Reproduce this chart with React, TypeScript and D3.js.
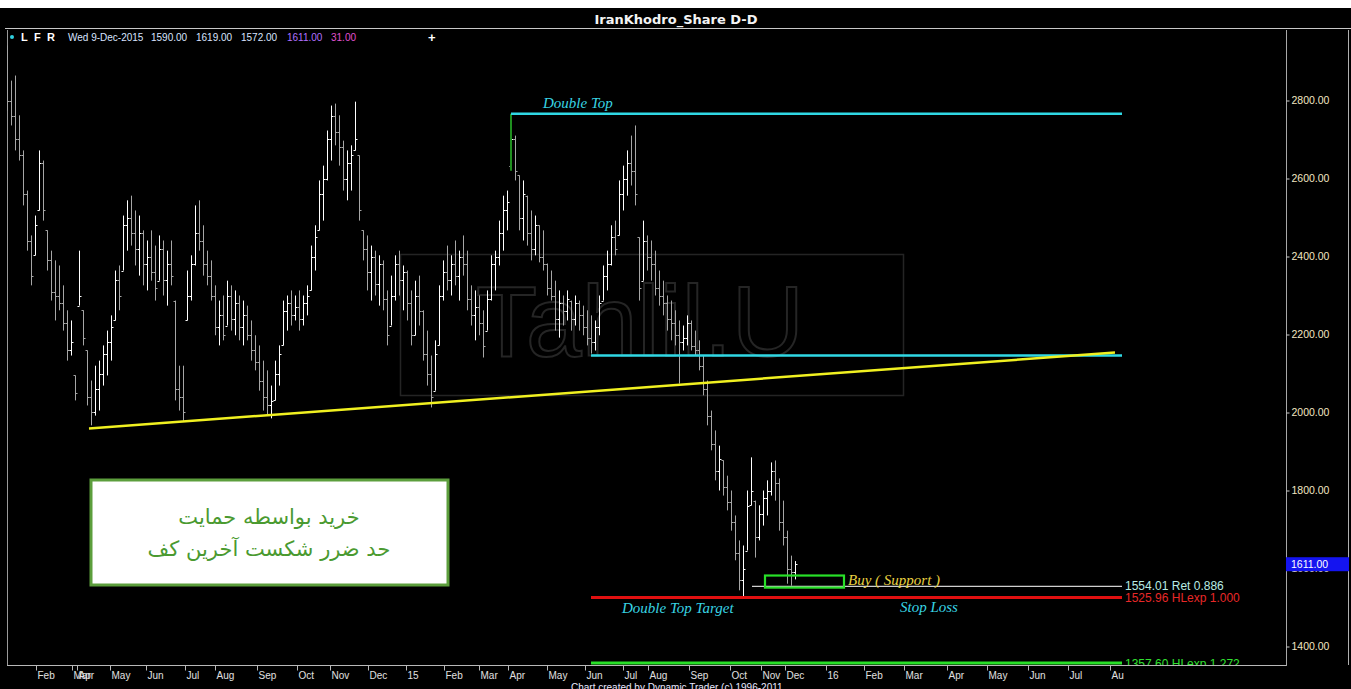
import { useRef, useEffect } from "react";
import * as d3 from "d3";

// bars (about one every second session), Jan 2014 .. 9 Dec 2015
const barHigh = [
  2941, 2851, 2864, 2762, 2672, 2569, 2454, 2505, 2672, 2646,
  2467, 2415, 2390, 2377, 2326, 2262, 2236, 2095, 2415, 2262,
  2159, 2082, 2120, 2133, 2172, 2210, 2249, 2364, 2377, 2505,
  2544, 2556, 2518, 2505, 2467, 2441, 2467, 2428, 2454, 2441,
  2415, 2441, 2287, 2120, 2120, 2364, 2403, 2531, 2544, 2480,
  2415, 2390, 2326, 2287, 2300, 2338, 2326, 2313, 2300, 2287,
  2274, 2236, 2198, 2172, 2133, 2108, 2069, 2133, 2172, 2287,
  2300, 2313, 2300, 2313, 2300, 2326, 2428, 2480, 2595, 2633,
  2723, 2787, 2792, 2762, 2697, 2672, 2685, 2797, 2659, 2467,
  2454, 2428, 2415, 2403, 2390, 2313, 2351, 2403, 2415, 2377,
  2364, 2313, 2338, 2351, 2262, 2210, 2146, 2185, 2326, 2390,
  2428, 2403, 2441, 2415, 2454, 2415, 2326, 2313, 2300, 2262,
  2313, 2403, 2415, 2492, 2556, 2569, 2766, 2710, 2608, 2595,
  2556, 2518, 2505, 2480, 2467, 2382, 2364, 2338, 2313, 2300,
  2313, 2287, 2300, 2287, 2274, 2262, 2249, 2236, 2300, 2377,
  2415, 2480, 2492, 2595, 2633, 2672, 2710, 2736, 2449, 2492,
  2454, 2441, 2415, 2364, 2338, 2300, 2287, 2262, 2236, 2223,
  2249, 2236, 2210, 2185, 2146, 2082, 2005, 1954, 1915, 1877,
  1838, 1800, 1736, 1672, 1659, 1800, 1885, 1774, 1762, 1800,
  1826, 1872, 1877, 1831, 1774, 1697, 1633, 1619,
];
const barLow = [
  2774, 2736, 2672, 2646, 2531, 2415, 2326, 2403, 2518, 2492,
  2364, 2287, 2236, 2262, 2210, 2133, 2146, 2031, 2274, 2172,
  2018, 1967, 1992, 2005, 2069, 2095, 2133, 2236, 2262, 2364,
  2415, 2428, 2377, 2351, 2326, 2313, 2338, 2287, 2338, 2300,
  2274, 2326, 2031, 2005, 1979, 2236, 2287, 2377, 2415, 2351,
  2326, 2287, 2198, 2172, 2185, 2223, 2210, 2198, 2185, 2172,
  2185, 2133, 2108, 2056, 2005, 1992, 1985, 2031, 2069, 2172,
  2210, 2223, 2236, 2210, 2223, 2249, 2313, 2364, 2467, 2492,
  2595, 2646, 2685, 2633, 2569, 2544, 2569, 2672, 2492, 2390,
  2313, 2287, 2300, 2274, 2262, 2172, 2223, 2287, 2300, 2262,
  2236, 2172, 2198, 2223, 2133, 2069, 2013, 2056, 2172, 2287,
  2313, 2300, 2326, 2287, 2351, 2262, 2223, 2185, 2198, 2141,
  2210, 2287, 2313, 2377, 2415, 2467, 2633, 2595, 2467, 2441,
  2428, 2390, 2403, 2385, 2364, 2300, 2287, 2210, 2192, 2223,
  2236, 2210, 2223, 2210, 2198, 2172, 2151, 2159, 2198, 2287,
  2313, 2377, 2403, 2454, 2518, 2556, 2582, 2531, 2287, 2338,
  2364, 2338, 2300, 2274, 2249, 2210, 2185, 2172, 2074, 2159,
  2172, 2159, 2146, 2108, 2044, 1967, 1903, 1826, 1800, 1787,
  1749, 1697, 1621, 1544, 1526, 1646, 1762, 1628, 1672, 1710,
  1736, 1787, 1774, 1697, 1659, 1561, 1556, 1572,
];
const barClose = [
  2800, 2760, 2700, 2660, 2560, 2440, 2350, 2480, 2640, 2520,
  2390, 2310, 2300, 2280, 2230, 2160, 2180, 2050, 2300, 2190,
  2040, 2000, 2060, 2100, 2150, 2180, 2220, 2340, 2300, 2480,
  2500, 2460, 2420, 2460, 2380, 2400, 2360, 2320, 2420, 2340,
  2380, 2350, 2060, 2040, 2000, 2300, 2380, 2460, 2440, 2380,
  2350, 2300, 2220, 2250, 2200, 2300, 2240, 2280, 2220, 2250,
  2200, 2160, 2130, 2080, 2040, 2020, 2030, 2100, 2150, 2260,
  2280, 2250, 2270, 2240, 2280, 2300, 2400, 2450, 2560, 2600,
  2700, 2760, 2720, 2680, 2600, 2640, 2660, 2700, 2520, 2420,
  2360, 2400, 2330, 2380, 2290, 2200, 2300, 2380, 2340, 2360,
  2280, 2200, 2300, 2260, 2150, 2100, 2040, 2150, 2300, 2360,
  2340, 2380, 2350, 2400, 2380, 2290, 2250, 2270, 2230, 2170,
  2290, 2380, 2400, 2460, 2520, 2540, 2700, 2620, 2500, 2560,
  2460, 2420, 2480, 2400, 2380, 2320, 2300, 2240, 2280, 2260,
  2290, 2240, 2280, 2250, 2220, 2190, 2180, 2220, 2280, 2350,
  2380, 2450, 2420, 2560, 2600, 2640, 2620, 2560, 2320, 2440,
  2400, 2380, 2320, 2300, 2280, 2240, 2230, 2200, 2180, 2190,
  2230, 2170, 2160, 2120, 2060, 1990, 1920, 1850, 1880, 1810,
  1770, 1720, 1640, 1570, 1600, 1760, 1800, 1680, 1740, 1780,
  1800, 1850, 1820, 1720, 1680, 1600, 1590, 1611,
];

const monthLabels = [
  "Feb", "Mar", "Apr", "May", "Jun", "Jul", "Aug", "Sep", "Oct", "Nov", "Dec", "15",
  "Feb", "Mar", "Apr", "May", "Jun", "Jul", "Aug", "Sep", "Oct", "Nov", "Dec", "16",
  "Feb", "Mar", "Apr", "May", "Jun", "Jul", "Au",
];
// month starts on the bar-index axis
const monthTicks = [
  7.25, 16.25, 17.5, 25.75, 34.75, 44.5, 52, 62.5, 72.5, 80.75, 90.25, 99.75,
  109.25, 118, 125.25, 135, 144.5, 154, 160.25, 170.5, 180.75, 188.5, 194.5, 204.75,
  214.25, 224.25, 235, 245, 255.25, 265.25, 275.75,
];
const priceTicks = [1400, 1600, 1800, 2000, 2200, 2400, 2600, 2800];

const legendValues = ["1590.00", "1619.00", "1572.00", "1611.00", "31.00"];
const doubleTopLevel = 2766;
const necklineLevel = 2146;
const retLevel = 1554.01;
const targetLevel = 1525.96;
const extLevel = 1357.6;
const lastClose = 1611;
const trendFrom = [20.5, 1959];
const trendTo = [277, 2154];
const buyZone = [189.5, 209.25, 1551, 1582];

const W = 1351;
const H = 689;

const App = () => {
  const svgRef = useRef(null);

  useEffect(() => {
    const svg = d3.select(svgRef.current);
    svg.selectAll("*").remove();

    const plot = { left: 7, right: 1286, top: 30, bottom: 665 };
    const x = d3.scaleLinear().domain([0, 320]).range([7, 1287]);
    const y = d3.scaleLinear().domain([1400, 2800]).range([646.5, 100.5]);
    const endIdx = 278.75;

    // background
    svg.append("rect").attr("width", W).attr("height", H).attr("fill", "#fff");
    svg.append("rect").attr("y", 8).attr("width", W).attr("height", H - 8).attr("fill", "#000");

    const defs = svg.append("defs");
    defs.append("clipPath").attr("id", "plotClip")
      .append("rect")
      .attr("x", plot.left).attr("y", plot.top)
      .attr("width", plot.right - plot.left).attr("height", plot.bottom - plot.top);

    // title + header
    svg.append("text")
      .attr("x", 676).attr("y", 24)
      .attr("text-anchor", "middle")
      .attr("font-family", "DejaVu Sans").attr("font-weight", "bold").attr("font-size", 13)
      .attr("fill", "#f4f4f4")
      .text("IranKhodro_Share D-D");
    svg.append("line").attr("x1", 5).attr("x2", W).attr("y1", 28.5).attr("y2", 28.5)
      .attr("stroke", "#c8c8c8");

    const legend = svg.append("g").attr("font-family", "Liberation Sans").attr("font-size", 10);
    legend.append("circle").attr("cx", 12).attr("cy", 37).attr("r", 2).attr("fill", "#30d0e0");
    ["L", "F", "R"].forEach((t, i) => {
      legend.append("text").attr("x", 21 + i * 13).attr("y", 41).attr("font-weight", "bold")
        .attr("font-size", 11).attr("fill", "#fff").text(t);
    });
    legend.append("text").attr("x", 68).attr("y", 41).attr("fill", "#d8e4ff").text("Wed 9-Dec-2015");
    const legendX = [151, 196, 241, 287, 331];
    const legendColors = ["#d8e4ff", "#d8e4ff", "#d8e4ff", "#b070ff", "#e050d0"];
    legendValues.forEach((v, i) => {
      legend.append("text").attr("x", legendX[i]).attr("y", 41).attr("fill", legendColors[i]).text(v);
    });
    legend.append("text").attr("x", 428).attr("y", 42).attr("font-weight", "bold")
      .attr("font-size", 13).attr("fill", "#fff").text("+");

    // frame
    svg.append("line").attr("x1", plot.left + 0.5).attr("x2", plot.left + 0.5)
      .attr("y1", plot.top).attr("y2", plot.bottom).attr("stroke", "#9a9a9a");
    svg.append("line").attr("x1", plot.right + 0.5).attr("x2", plot.right + 0.5)
      .attr("y1", plot.top).attr("y2", plot.bottom + 1).attr("stroke", "#a8a8a8");
    svg.append("line").attr("x1", 1348.5).attr("x2", 1348.5)
      .attr("y1", plot.top).attr("y2", plot.bottom).attr("stroke", "#b0b0b0");
    svg.append("line").attr("x1", plot.left).attr("x2", plot.right)
      .attr("y1", plot.bottom + 0.5).attr("y2", plot.bottom + 0.5).attr("stroke", "#b8b8b8");

    const g = svg.append("g").attr("clip-path", "url(#plotClip)");

    // watermark
    g.append("rect").attr("x", 400.5).attr("y", 254.5).attr("width", 503).attr("height", 141)
      .attr("fill", "none").attr("stroke", "#242424").attr("stroke-width", 1.5);
    g.append("text").attr("x", 640).attr("y", 356).attr("text-anchor", "middle")
      .attr("font-family", "Liberation Sans").attr("font-size", 100)
      .attr("fill", "none").attr("stroke", "#252525").attr("stroke-width", 2)
      .text("Tahlil.U");

    // bars
    const bars = barHigh.map((h, i) => {
      const prev = i > 0 ? barClose[i - 1] : h;
      const open = Math.max(barLow[i], Math.min(h, prev));
      return { i, high: h, low: barLow[i], open, close: barClose[i] };
    });
    const barG = g.append("g");
    bars.forEach((d) => {
      const cx = Math.round(x(d.i)) + 0.5;
      const col = d.close >= d.open ? "#ffffff" : "#a6a6a6";
      barG.append("line").attr("x1", cx).attr("x2", cx)
        .attr("y1", y(d.high)).attr("y2", y(d.low)).attr("stroke", col);
      barG.append("line").attr("x1", cx - 2).attr("x2", cx)
        .attr("y1", Math.round(y(d.open)) + 0.5).attr("y2", Math.round(y(d.open)) + 0.5).attr("stroke", col);
      barG.append("line").attr("x1", cx).attr("x2", cx + 2)
        .attr("y1", Math.round(y(d.close)) + 0.5).attr("y2", Math.round(y(d.close)) + 0.5).attr("stroke", col);
    });

    // double top
    g.append("line").attr("x1", x(126)).attr("x2", x(126))
      .attr("y1", y(doubleTopLevel)).attr("y2", y(2620)).attr("stroke", "#1f8f1f").attr("stroke-width", 2);
    g.append("line").attr("x1", x(126)).attr("x2", x(endIdx))
      .attr("y1", y(doubleTopLevel)).attr("y2", y(doubleTopLevel)).attr("stroke", "#30d8e4").attr("stroke-width", 2.5);
    g.append("line").attr("x1", x(146)).attr("x2", x(endIdx))
      .attr("y1", y(necklineLevel)).attr("y2", y(necklineLevel)).attr("stroke", "#30d8e4").attr("stroke-width", 2.5);

    // support trend line
    g.append("line")
      .attr("x1", x(trendFrom[0])).attr("y1", y(trendFrom[1]))
      .attr("x2", x(trendTo[0])).attr("y2", y(trendTo[1]))
      .attr("stroke", "#f0f020").attr("stroke-width", 2.5);

    // targets
    g.append("line").attr("x1", x(186.25)).attr("x2", x(endIdx))
      .attr("y1", y(retLevel)).attr("y2", y(retLevel)).attr("stroke", "#d0d0d0").attr("stroke-width", 1.3);
    g.append("line").attr("x1", x(146)).attr("x2", x(endIdx))
      .attr("y1", y(targetLevel)).attr("y2", y(targetLevel)).attr("stroke", "#e01010").attr("stroke-width", 3);
    g.append("line").attr("x1", x(146)).attr("x2", x(endIdx))
      .attr("y1", y(extLevel)).attr("y2", y(extLevel)).attr("stroke", "#28e028").attr("stroke-width", 3);

    g.append("rect")
      .attr("x", x(buyZone[0])).attr("y", y(buyZone[3]))
      .attr("width", x(buyZone[1]) - x(buyZone[0])).attr("height", y(buyZone[2]) - y(buyZone[3]))
      .attr("fill", "none").attr("stroke", "#28e028").attr("stroke-width", 2.2);

    const levelLabels = svg.append("g").attr("font-family", "Liberation Sans").attr("font-size", 12)
      .attr("clip-path", "url(#plotClip)");
    levelLabels.append("text").attr("x", x(endIdx) + 3).attr("y", y(retLevel) + 4)
      .attr("fill", "#b8ece4").text(`${retLevel.toFixed(2)} Ret 0.886`);
    levelLabels.append("text").attr("x", x(endIdx) + 3).attr("y", y(targetLevel) + 5)
      .attr("fill", "#e82828").text(`${targetLevel.toFixed(2)} HLexp 1.000`);
    levelLabels.append("text").attr("x", x(endIdx) + 3).attr("y", y(extLevel) + 5)
      .attr("fill", "#30e030").text(`${extLevel.toFixed(2)} HLexp 1.272`);

    const notes = svg.append("g").attr("font-family", "Liberation Serif").attr("font-style", "italic")
      .attr("font-size", 15);
    notes.append("text").attr("x", x(134)).attr("y", y(doubleTopLevel) - 6)
      .attr("fill", "#38d4e4").text("Double Top");
    notes.append("text").attr("x", x(153.75)).attr("y", y(targetLevel) + 16)
      .attr("fill", "#38d4e4").text("Double Top Target");
    notes.append("text").attr("x", x(223.25)).attr("y", y(targetLevel) + 15)
      .attr("fill", "#38d4e4").text("Stop Loss");
    notes.append("text").attr("x", x(210.25)).attr("y", y(buyZone[2]) - 3)
      .attr("fill", "#e8d040").text("Buy ( Support )");

    // price axis
    const yAxis = svg.append("g")
      .attr("transform", `translate(${plot.right + 0.5},0)`)
      .call(d3.axisRight(y).tickValues(priceTicks).tickFormat(d3.format(".2f")).tickSize(3).tickPadding(2).tickSizeOuter(0));
    yAxis.select(".domain").remove();
    yAxis.selectAll("line").attr("stroke", "#c8c8c8");
    yAxis.selectAll("text").attr("font-family", "Liberation Sans").attr("font-size", 10.5).attr("fill", "#f2e6c2");

    svg.append("rect").attr("x", plot.right).attr("y", y(lastClose) - 7).attr("width", 63).attr("height", 14)
      .attr("fill", "#1414f0");
    svg.append("text").attr("x", plot.right + 5).attr("y", y(lastClose) + 4)
      .attr("font-family", "Liberation Sans").attr("font-size", 10.5).attr("fill", "#fff")
      .text(lastClose.toFixed(2));

    // time axis
    const xAxis = svg.append("g")
      .attr("transform", `translate(0,${plot.bottom + 0.5})`)
      .call(d3.axisBottom(x).tickValues(monthTicks).tickFormat((_d, i) => monthLabels[i]).tickSize(5).tickSizeOuter(0));
    xAxis.select(".domain").remove();
    xAxis.selectAll("line").attr("stroke", "#b8b8b8");
    xAxis.selectAll("text")
      .attr("text-anchor", "start").attr("x", 1).attr("y", 6)
      .attr("font-family", "Liberation Sans").attr("font-size", 10).attr("fill", "#e0e0e0");

    svg.append("text").attr("x", 571).attr("y", 691)
      .attr("font-family", "Liberation Sans").attr("font-size", 10).attr("fill", "#e8e8ff")
      .text("Chart created by Dynamic Trader  (c) 1996-2011");

    // note box
    const box = svg.append("g");
    box.append("rect").attr("x", 91).attr("y", 480).attr("width", 357).attr("height", 105)
      .attr("fill", "#ffffff").attr("stroke", "#5c9e3c").attr("stroke-width", 3);
    box.append("text").attr("x", 269).attr("y", 524).attr("text-anchor", "middle").attr("direction", "rtl")
      .attr("font-family", "DejaVu Sans").attr("font-size", 21).attr("fill", "#4a9a30")
      .text("خرید بواسطه حمایت");
    box.append("text").attr("x", 269).attr("y", 556).attr("text-anchor", "middle").attr("direction", "rtl")
      .attr("font-family", "DejaVu Sans").attr("font-size", 21).attr("fill", "#4a9a30")
      .text("حد ضرر شکست آخرین کف");
  }, []);

  return (
    <svg
      ref={svgRef}
      width={W}
      height={H}
      style={{ position: "absolute", left: 0, top: 0, display: "block" }}
    ></svg>
  );
};

export default App;
